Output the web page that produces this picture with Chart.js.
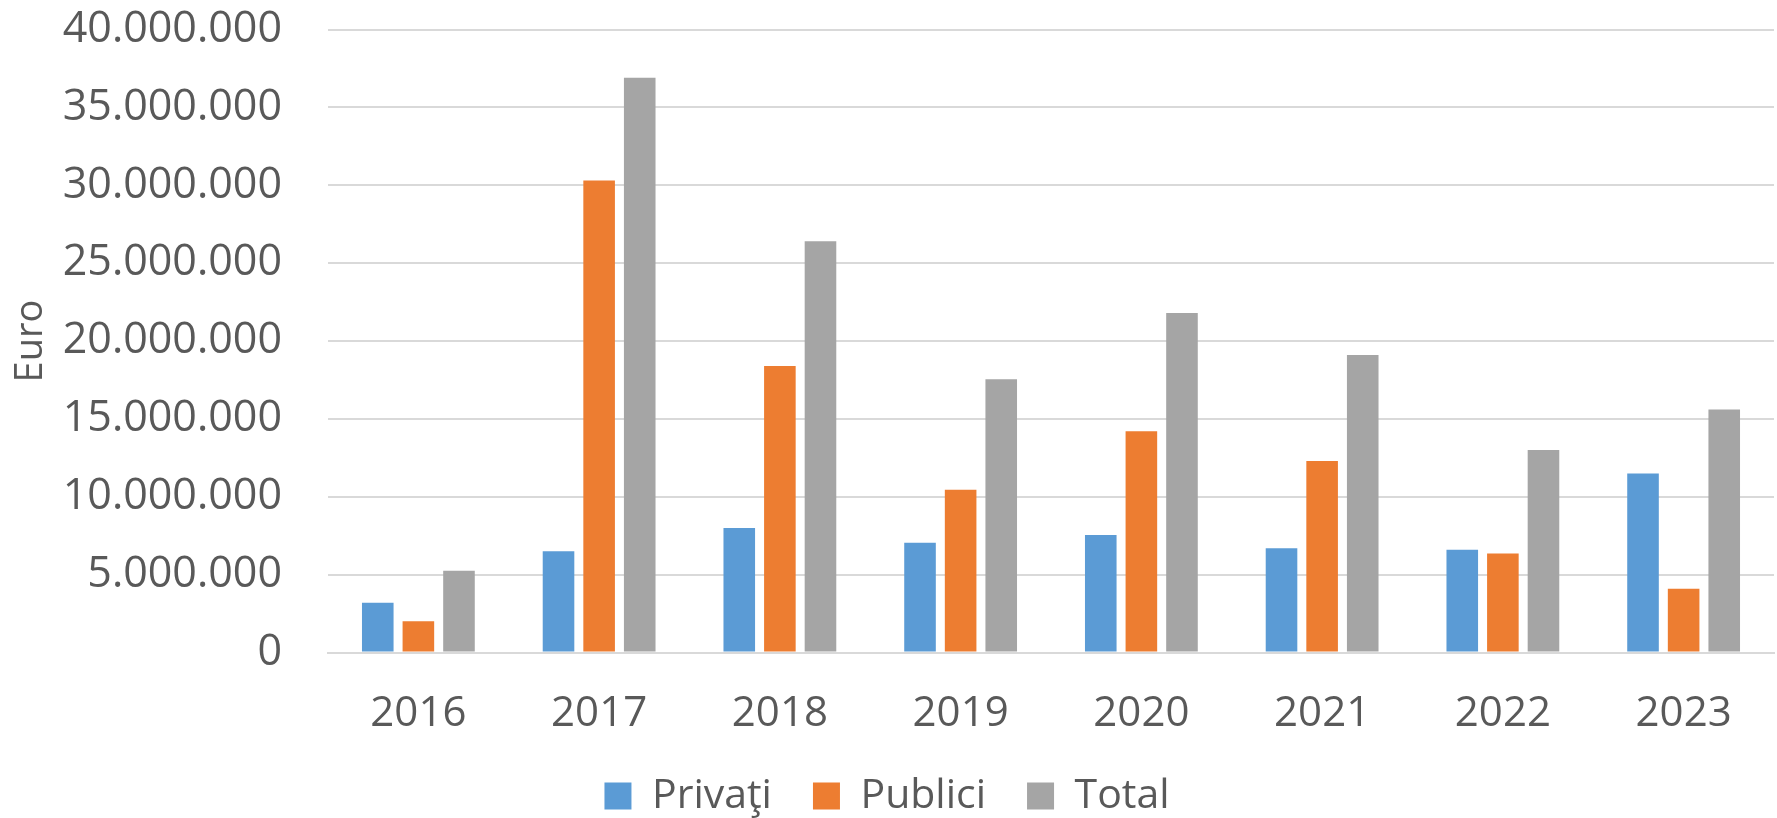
<!DOCTYPE html>
<html>
<head>
<meta charset="utf-8">
<script src="https://cdn.jsdelivr.net/npm/chart.js@4"></script>
<style>
  html, body { margin: 0; padding: 0; background: #fff; }
  #wrap { width: 1777px; height: 818px; }
</style>
</head>
<body>
<div id="wrap"><canvas id="myChart"></canvas></div>
<script>
const years = ["2016", "2017", "2018", "2019", "2020", "2021", "2022", "2023"];

const privati = [3200000, 6500000, 8000000, 7050000, 7550000, 6700000, 6600000, 11500000];
const publici = [2000000, 30300000, 18400000, 10450000, 14200000, 12300000, 6350000, 4100000];
const total = [5250000, 36900000, 26400000, 17550000, 21800000, 19100000, 13000000, 15600000];

const yTicks = [0, 5000000, 10000000, 15000000, 20000000, 25000000, 30000000, 35000000, 40000000];

const textColor = "#595959";
const fontFamily = "'Open Sans', 'Noto Sans', sans-serif";

function fmt(v) {
  // 40.000.000 style
  return String(v).replace(/\B(?=(\d{3})+(?!\d))/g, ".");
}

const ctx = document.querySelector("#myChart").getContext("2d");
const chart = new Chart(ctx, {
  type: "bar",
  data: {
    labels: years,
    datasets: [
      { label: "Privaţi", data: privati, backgroundColor: "#5B9BD5" },
      { label: "Publici", data: publici, backgroundColor: "#ED7D31" },
      { label: "Total", data: total, backgroundColor: "#A5A5A5" },
    ],
  },
  options: {
    responsive: true,
    maintainAspectRatio: false,
    animation: false,
    categoryPercentage: 0.674,
    barPercentage: 0.778,
    // bottom < 0 so the legend padding can be wide between items
    layout: { padding: { top: 29.5, right: 3, left: 0, bottom: -8.5 } },
    plugins: {
      tooltip: { enabled: false },
      legend: {
        position: "bottom",
        labels: {
          color: textColor,
          font: { family: fontFamily, size: 41 },
          boxWidth: 27,
          boxHeight: 27,
          padding: 41,
        },
      },
    },
    scales: {
      x: {
        grid: { display: false, drawTicks: false },
        border: { display: true, color: "#D9D9D9", width: 2 },
        ticks: {
          color: textColor,
          font: { family: fontFamily, size: 42 },
          padding: 36,
        },
        afterFit: (scale) => {
          scale.height = 82;
          scale.paddingLeft = 0;
          scale.paddingRight = 0;
        },
      },
      y: {
        min: 0,
        max: 40000000,
        afterBuildTicks: (axis) => {
          axis.ticks = yTicks.map((v) => ({ value: v }));
        },
        afterFit: (scale) => {
          scale.width = 328;
          scale.paddingTop = 0;
          scale.paddingBottom = 0;
        },
        grid: { color: "#D9D9D9", lineWidth: 2, drawTicks: false },
        border: { display: false },
        ticks: {
          color: textColor,
          font: { family: fontFamily, size: 43 },
          padding: 46,
          callback: (v) => fmt(v),
        },
        title: {
          display: true,
          text: "Euro",
          color: textColor,
          font: { family: fontFamily, size: 38 },
          padding: { top: 8, bottom: 8 },
        },
      },
    },
  },
});
</script>
</body>
</html>
